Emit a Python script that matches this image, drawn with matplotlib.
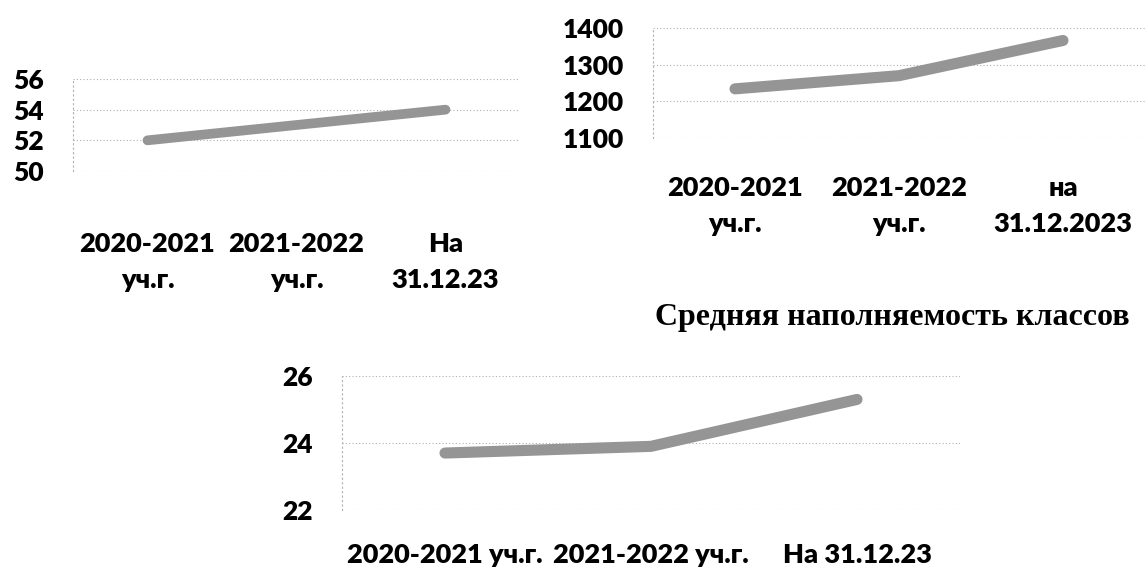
import numpy as np
import matplotlib.pyplot as plt

plt.rcParams['font.family'] = ['Lato', 'DejaVu Sans']

# Chart 1 (top left)
cats1 = ['2020-2021\nуч.г.', '2021-2022\nуч.г.', 'На\n31.12.23']
vals1 = [52.0, 53.0, 54.0]
ticks1 = [50, 52, 54, 56]

# Chart 2 (top right)
cats2 = ['2020-2021\nуч.г.', '2021-2022\nуч.г.', 'на\n31.12.2023']
vals2 = [1234, 1270, 1366]
ticks2 = [1100, 1200, 1300, 1400]

# Chart 3 (bottom) - average class size
title3 = 'Средняя наполняемость классов'
cats3 = ['2020-2021 уч.г.', '2021-2022 уч.г.', 'На 31.12.23']
vals3 = [23.7, 23.9, 25.3]
ticks3 = [22, 24, 26]

W, H = 1145, 576
fig = plt.figure(figsize=(W / 100, H / 100), dpi=100)


def px_axes(left, top, right, bottom):
    return fig.add_axes([left / W, 1 - bottom / H, (right - left) / W, (bottom - top) / H])


def style(ax, cats, vals, ticks, lw, xpad):
    x = np.arange(len(cats))
    ax.plot(x, vals, color='#959595', lw=lw, solid_capstyle='round')
    ax.set_xlim(-0.5, len(cats) - 0.5)
    ax.set_ylim(ticks[0], ticks[-1])
    ax.set_yticks(ticks)
    ax.set_xticks(x)
    ax.set_xticklabels(cats, linespacing=1.6)
    for t in ticks:
        ax.axhline(t, color='#b0b0b0', lw=0.8, ls=(0, (1, 2)), zorder=0)
    for s in ['top', 'right', 'bottom']:
        ax.spines[s].set_visible(False)
    ax.spines['left'].set_linestyle((0, (1, 3)))
    ax.spines['left'].set_color('#b0b0b0')
    ax.spines['left'].set_linewidth(0.8)
    ax.tick_params(axis='y', length=0, pad=21, labelsize=19)
    ax.tick_params(axis='x', length=0, pad=xpad, labelsize=19.5)
    for lab in ax.get_xticklabels() + ax.get_yticklabels():
        lab.set_fontweight('heavy')


ax1 = px_axes(73, 79, 520, 171)
style(ax1, cats1, vals1, ticks1, 7, 44)

ax2 = px_axes(653, 28, 1145, 138)
style(ax2, cats2, vals2, ticks2, 8, 27)

ax3 = px_axes(342, 376, 960, 510)
style(ax3, cats3, vals3, ticks3, 8, 24)

fig.text(892 / W, 1 - 318 / H, title3, ha='center', va='center',
         fontsize=23, fontweight='bold', family='Liberation Serif')

fig.savefig('out.png', dpi=100)
